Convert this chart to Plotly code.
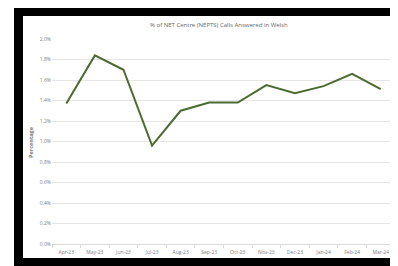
import plotly.graph_objects as go

months = ["Apr-23", "May-23", "Jun-23", "Jul-23", "Aug-23", "Sep-23",
          "Oct-23", "Nov-23", "Dec-23", "Jan-24", "Feb-24", "Mar-24"]
pct_welsh = [1.37, 1.84, 1.70, 0.96, 1.30, 1.38, 1.38, 1.55, 1.47, 1.54, 1.66, 1.51]
y_ticks = [0.0, 0.2, 0.4, 0.6, 0.8, 1.0, 1.2, 1.4, 1.6, 1.8, 2.0]

OFF = 8  # default page body margin
W, H = 398 - OFF, 266 - OFF
# plot area in page pixels: x 52..395, y 39..244
L, R, T, B = 52 - OFF, 398 - 395, 39 - OFF, 266 - 244
pw, ph = W - L - R, H - T - B

def px(x):
    return (x - OFF - L) / pw

def py(y):
    return (H - B - (y - OFF)) / ph

fig = go.Figure()
fig.add_trace(go.Scatter(
    x=months, y=pct_welsh, mode="lines",
    line=dict(color="#4b6b30", width=2),
    showlegend=False,
))

fig.add_shape(type="rect", xref="paper", yref="paper",
              x0=px(14), x1=px(402), y0=py(6), y1=py(270),
              fillcolor="black", line_width=0, layer="below")
fig.add_shape(type="rect", xref="paper", yref="paper",
              x0=px(23), x1=px(396), y0=py(16), y1=py(258),
              fillcolor="white", line_width=0, layer="below")

fig.add_annotation(text="% of NET Centre (NEPTS) Calls Answered in Welsh",
                   xref="paper", yref="paper", x=px(219), y=py(25),
                   showarrow=False, font=dict(size=6, color="#666666"),
                   xanchor="center", yanchor="middle")
fig.add_annotation(text="<b>Percentage</b>", textangle=-90,
                   xref="paper", yref="paper", x=px(31), y=py(142),
                   showarrow=False, font=dict(size=5.5, color="#777777"),
                   xanchor="center", yanchor="middle")

fig.update_layout(
    width=W, height=H,
    margin=dict(l=L, r=R, t=T, b=B),
    paper_bgcolor="white",
    plot_bgcolor="rgba(0,0,0,0)",
    font=dict(family="Open Sans", size=5, color="#808080"),
)
fig.update_xaxes(
    type="category", range=[-0.5, 11.5],
    showgrid=False, showline=True, linecolor="#d9d9d9", linewidth=1,
    ticks="outside", tickson="boundaries", ticklen=3, tickcolor="#d9d9d9",
    ticklabelstandoff=3,
    tickfont=dict(size=5, color="#808080"),
)
fig.update_yaxes(
    range=[0, 2.0], tickvals=y_ticks,
    ticktext=[f"{v:.1f}%" for v in y_ticks],
    showgrid=True, gridcolor="#e6e6e6", gridwidth=1,
    zeroline=False, showline=False,
    ticks="", ticklen=0,
    tickfont=dict(size=5, color="#808080"),
)

fig.write_html("out.html")
